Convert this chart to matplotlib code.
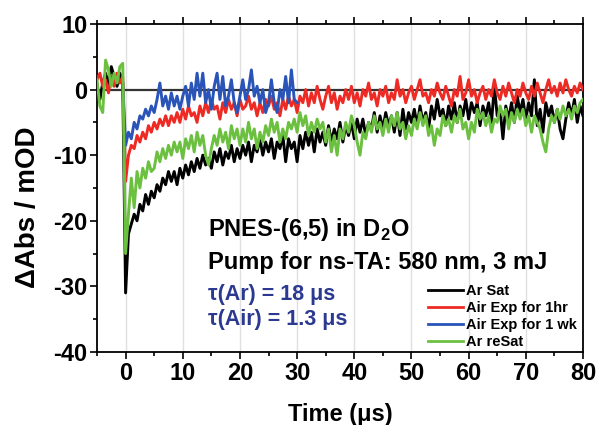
import matplotlib
matplotlib.use("Agg")
import matplotlib.pyplot as plt
import numpy as np
from matplotlib.ticker import MultipleLocator

plt.rcParams["font.family"] = ["Liberation Sans", "DejaVu Sans"]
plt.rcParams["font.weight"] = "bold"
plt.rcParams["axes.unicode_minus"] = False
plt.rcParams["mathtext.fontset"] = "custom"
plt.rcParams["mathtext.bf"] = "Liberation Sans:bold"
plt.rcParams["mathtext.rm"] = "Liberation Sans:bold"

# shared sampling time (us), 0.5 us steps from -5 to 80
t = np.arange(-5, 80.25, 0.5)
t_blue = np.arange(-0.5, 30.25, 0.5)

ar_sat = [
    0.5, -1.5, 1.0, 2.5, 0.8, 3.5, 2.0, 0.5, 2.5, 1.0,
    -31, -22, -20.5, -19, -20, -17.5, -18.5, -16, -17.5, -15.5,
    -16.5, -14.5, -15.5, -13.5, -14.5, -12.5, -14, -12.5, -14.5, -12,
    -13.5, -11.5, -13, -11, -12.5, -10.5, -12, -10, -11.5, -10.5,
    -12, -9.5, -11, -9, -11.5, -9.5, -10.5, -8.5, -11, -9,
    -10.5, -8.5, -10, -8, -11, -8.5, -9.5, -7.5, -10, -8,
    -9.5, -7.5, -10.5, -8, -9, -7, -11, -7.5, -9, -8,
    -11, -7, -9, -6.5, -8.5, -6.5, -9.5, -6, -8, -6.5,
    -8.5, -5.5, -8, -6, -7.5, -5, -8, -5.5, -7, -5,
    -7.5, -4.5, -6.5, -4.5, -7, -5, -6, -3.5, -6.5, -4,
    -6, -3.5, -5.5, -4, -6.5, -3.5, -7, -3, -6, -3.5,
    -5, -3, -5.5, -2.5, -5, -3.5, -6, -2.5, -4.5, -1.5,
    -4, -3, -5.5, -2.5, -4.5, -2, -5, -2.5, -4, -1.5,
    -4.5, -2, -3.5, -2, -5.5, -2.5, -4, -2, -5, 0.5,
    -4, -3, -7.5, -2.5, -4.5, -2, -5, -1, -3.5, -1.5,
    -4.5, -2, -4, 1.5, -5.5, -3, -6.5, -2, -4, -2.5,
    -5, -3, -6, -7.5, -4.5, -2, -4, -1.5, -5, -2.5,
    -4,
]

air_1hr = [
    1.5, 2.5, 0.5, 1.5, -0.5, 2.0, 0.5, 2.5, 1.0, 2.0,
    -14, -10, -8.5, -9, -7, -8, -6.5, -7.5, -5.5, -6.5,
    -5, -6, -4.5, -5.5, -4, -5.5, -4, -5, -3.5, -5,
    -3, -4.5, -2.5, -4, -3.5, -5, -2.5, -4, -2, -3.5,
    -1.5, -3, -2.5, -4.5, -2, -3.5, -1.5, -3, -2, -4,
    -1.5, -3, -2.5, -1, -3, -2, -4, -2, -3.5, -1.5,
    -2.5, -1, -3, -2, -4, -1.5, -3, -1, -2.5, -1.5,
    -3.5, -1, -2, 0, -2.5, -0.5, -2, 0.5, -1.5, -3,
    -1, 0.5, -2, -0.5, -3, -1, -2, 0, -1.5, 0.5,
    -2, -0.5, -2.5, 0, -1, 1, -1.5, -0.5, -2.5, 0,
    -1, 0.5, -2, -0.5, -1.5, 1.5, -1, 0, -2, -0.5,
    0.5, -1.5, 0, 1.5, -1, -0.5, -2, 0, -1, 1,
    -0.5, -1.5, 0.5, -1, -2.5, 0, -1, 2, -1.5, -0.5,
    1.5, -1, 0, -2, -0.5, 0.5, -1.5, 0, -1, 1.5,
    -0.5, -1.5, 0.5, -1, 1, -0.5, -2, 0, -1, 1,
    -0.5, -1.5, 0.5, -1, 1, -0.5, -2, 0, 1.5, -0.5,
    0.5, -1, 1, -0.5, 1.5, 0, -1, 0.5, -0.5, 1,
    0,
]

air_1wk = [
    1.0,
    -8.5, -6.5, -7.5, -5, -6, -4, -4.5, -3, -4, -2.5,
    -3.5, -1.5, 1.0, -2.5, -1, -3, -0.5, -2.5, -1, -3,
    -1, 0.5, -2.5, 1.0, -1.5, 2.5, -1, 2.5, -2, 0,
    -3, 0.5, 2.5, -1.5, 2.0, -2.5, -1, 1.5, -2, -3.5,
    -1, 1.5, -1.5, 0, 3.0, -1, 0.5, -2, 0, -3.5,
    -2, 1.5, -2, -3.5, 0, -1.5, 2, -2, 3, -1.5,
    -2,
]

ar_resat = [
    1.5, -2.5, -3.5, 4.5, 3.0, 0.5, 2.5, 1.0, 3.5, 4.0,
    -25, -19, -13.5, -18, -12.5, -15, -12, -13.5, -11, -12.5,
    -12, -9.5, -11, -9, -10.5, -8.5, -10, -8, -9.5, -8,
    -10.5, -7.5, -9, -7, -9.5, -6.5, -8.5, -7, -10, -11.5,
    -9, -7, -8.5, -6, -8, -6.5, -9, -5.5, -7.5, -6,
    -8.5, -6, -8, -5, -7.5, -6, -9, -6.5, -8, -5.5,
    -7, -4.5, -6.5, -5, -8, -6, -7.5, -5, -6, -4.5,
    -6.5, -3.5, -5.5, -4, -7, -5, -6.5, -4.5, -6, -5,
    -8, -6, -9.5, -7, -10, -6, -7.5, -5, -6.5, -4,
    -5.5, -8, -10, -6.5, -7.5, -5, -6.5, -4, -6, -5,
    -7, -4.5, -6.5, -4, -5.5, -3.5, -6, -5, -7.5, -5.5,
    -7, -4.5, -6, -3.5, -5.5, -4, -7, -5.5, -8.5, -6,
    -7, -4, -5.5, -4.5, -6.5, -4, -5, -3, -6, -5,
    -7.5, -5, -6.5, -3, -4.5, -3.5, -5.5, -4, -6.5, -4.5,
    -5, -2.5, -4, -3, -6, -3.5, -5, -3, -4.5, -3,
    -5.5, -4, -6.5, -4, -5, -6, -8, -9.5, -6, -4,
    -5, -3, -4.5, -2.5, -4, -3, -4.5, -2.5, -3.5, -2,
    -1.5,
]

labels = ["Ar Sat", "Air Exp for 1hr", "Air Exp for 1 wk", "Ar reSat"]
colors = ["#000000", "#ee2a24", "#2a54b8", "#6cc040"]

fig = plt.figure(figsize=(5.97, 4.25), dpi=100)
ax = fig.add_axes([0.1625, 0.172, 0.814, 0.7715])

for xv in range(0, 80, 10):
    ax.axvline(xv, color="#e0e0e0", lw=1.0, zorder=0)
ax.axhline(0, color="#333333", lw=1.6, zorder=1)

ax.plot(t, ar_sat, color=colors[0], lw=2.1, label=labels[0], zorder=2)
ax.plot(t, air_1hr, color=colors[1], lw=2.1, label=labels[1], zorder=3)
ax.plot(t_blue, air_1wk, color=colors[2], lw=2.1, label=labels[2], zorder=4)
ax.plot(t, ar_resat, color=colors[3], lw=2.1, label=labels[3], zorder=5)

ax.set_xlim(-5, 80)
ax.set_ylim(-40, 10)
ax.xaxis.set_major_locator(MultipleLocator(10))
ax.xaxis.set_minor_locator(MultipleLocator(5))
ax.yaxis.set_major_locator(MultipleLocator(10))
ax.yaxis.set_minor_locator(MultipleLocator(5))
ax.tick_params(which="both", direction="out", top=True, right=False, width=1.2)
ax.tick_params(which="major", length=5, labelsize=17, pad=2)
ax.tick_params(which="minor", length=3)
for s in ax.spines.values():
    s.set_linewidth(1.3)

ax.set_xlabel("Time (\u03bcs)", fontsize=17, fontweight="bold")
ax.set_ylabel("\u0394Abs / mOD", fontsize=20, fontweight="bold")
ax.xaxis.set_label_coords(0.5, -0.155)
ax.yaxis.set_label_coords(-0.115, 0.44)

ax.text(14.5, -21.3, r"PNES-(6,5) in D$_\mathbf{2}$O", fontsize=17,
        fontweight="bold", va="center")
ax.text(14.5, -26.3, "Pump for ns-TA: 580 nm, 3 mJ", fontsize=17,
        fontweight="bold", va="center")
ax.text(14.5, -31.3, "\u03c4(Ar) = 18 \u03bcs", fontsize=15.5,
        fontweight="bold", va="center", color="#2b3990")
ax.text(14.5, -35.0, "\u03c4(Air) = 1.3 \u03bcs", fontsize=15.5,
        fontweight="bold", va="center", color="#2b3990")

leg = ax.legend(loc="lower left", bbox_to_anchor=(0.675, 0.0), frameon=False,
                fontsize=10.5, handlelength=2.4, handletextpad=0.2,
                labelspacing=0.2, borderpad=0.1, borderaxespad=0.1)
for h in leg.legend_handles:
    h.set_linewidth(2)

fig.savefig("out.png", dpi=100)
